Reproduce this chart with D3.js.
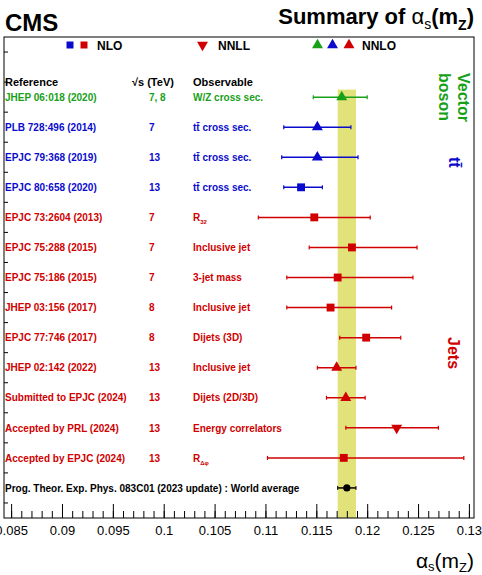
<!DOCTYPE html>
<html lang="en">
<head>
<meta charset="UTF-8">
<title>Summary of alpha_s(mZ)</title>
<script src="https://d3js.org/d3.v7.min.js"></script>
<style>
  body { margin: 0; background: #fff; }
  svg text { font-family: "Liberation Sans", Arial, sans-serif; }
  .bold { font-weight: bold; }
</style>
</head>
<body>
<svg id="chart" width="482" height="575"></svg>
<script>
// ---- data ----
const references = [
  "JHEP 06:018 (2020)", "PLB 728:496 (2014)", "EPJC 79:368 (2019)", "EPJC 80:658 (2020)",
  "EPJC 73:2604 (2013)", "EPJC 75:288 (2015)", "EPJC 75:186 (2015)", "JHEP 03:156 (2017)",
  "EPJC 77:746 (2017)", "JHEP 02:142 (2022)", "Submitted to EPJC (2024)", "Accepted by PRL (2024)",
  "Accepted by EPJC (2024)"
];
const sqrtS = ["7, 8", "7", "13", "13", "7", "7", "7", "8", "8", "13", "13", "13", "13"];
const observables = [
  "W/Z cross sec.", "tt\u0304 cross sec.", "tt\u0304 cross sec.", "tt\u0304 cross sec.",
  "R_32", "Inclusive jet", "3-jet mass", "Inclusive jet", "Dijets (3D)", "Inclusive jet",
  "Dijets (2D/3D)", "Energy correlators", "R_\u0394\u03c6"
];
const groups = ["V", "tt", "tt", "tt", "jets", "jets", "jets", "jets", "jets", "jets", "jets", "jets", "jets"];
const orders = ["NNLO", "NNLO", "NNLO", "NLO", "NLO", "NLO", "NLO", "NLO", "NLO", "NNLO", "NNLO", "NNLL", "NLO"];
const central = [0.1175, 0.1151, 0.1151, 0.1135, 0.1148, 0.1185, 0.1171, 0.1164, 0.1199, 0.1170, 0.1179, 0.1229, 0.1177];
const errLow  = [0.0028, 0.0033, 0.0035, 0.0017, 0.0055, 0.0042, 0.0050, 0.0043, 0.0026, 0.0019, 0.0019, 0.0050, 0.0075];
const errHigh = [0.0025, 0.0033, 0.0040, 0.0021, 0.0055, 0.0064, 0.0074, 0.0060, 0.0034, 0.0019, 0.0019, 0.0041, 0.0118];

const worldLabel = "Prog. Theor. Exp. Phys. 083C01 (2023 update) : World average";
const worldAvg = 0.1180, worldErr = 0.0009;

const majorTicks = [0.085, 0.09, 0.095, 0.1, 0.105, 0.11, 0.115, 0.12, 0.125, 0.13];

// ---- setup ----
const colorOf = {V: "#18a018", tt: "#0a0acc", jets: "#d00000"};
const svg = d3.select("#chart");
const frameL = 4, frameR = 474, frameT = 37, frameB = 518;

const x = d3.scaleLinear().domain([0.0843, 0.1305]).range([frameL, frameR]);
const y = d3.scaleLinear().domain([0, 16]).range([frameT, frameB]);

const rows = references.map((r, i) => ({
  ref: r, s: sqrtS[i], obs: observables[i], group: groups[i], order: orders[i],
  c: central[i], lo: central[i] - errLow[i], hi: central[i] + errHigh[i], pos: i + 2
}));

// world average band
svg.append("rect")
  .attr("x", x(worldAvg - worldErr)).attr("width", x(worldAvg + worldErr) - x(worldAvg - worldErr))
  .attr("y", y(1.75)).attr("height", y(16) - y(1.75))
  .attr("fill", "#e2e27a");

// frame
svg.append("rect").attr("x", frameL).attr("y", frameT)
  .attr("width", frameR - frameL).attr("height", frameB - frameT)
  .attr("fill", "none").attr("stroke", "#000").attr("stroke-width", 1);

// left ticks
svg.append("g").selectAll("line").data(d3.range(0, 16)).join("line")
  .attr("x1", frameL).attr("x2", frameL + 4)
  .attr("y1", d => y(d + 0.5)).attr("y2", d => y(d + 0.5))
  .attr("stroke", "#000");

// x axis: minor + major ticks pointing up
const minor = d3.range(85, 131).map(v => v / 1000);
svg.append("g").attr("transform", `translate(0,${frameB})`)
  .call(d3.axisBottom(x).tickValues(minor).tickSize(-7).tickFormat(""))
  .call(g => g.select(".domain").remove());
svg.append("g").attr("transform", `translate(0,${frameB})`)
  .call(d3.axisBottom(x).tickValues(majorTicks).tickSize(-14).tickFormat(d => String(+d.toFixed(3))))
  .call(g => g.select(".domain").remove())
  .call(g => g.selectAll("text").attr("font-size", 13).attr("fill", "#000")
    .attr("font-family", "Liberation Sans, Arial, sans-serif").attr("dy", "0").attr("y", 17));

// error bars
const bars = svg.append("g");
rows.forEach(d => {
  const col = colorOf[d.group];
  bars.append("line").attr("x1", x(d.lo)).attr("x2", x(d.hi))
    .attr("y1", y(d.pos)).attr("y2", y(d.pos)).attr("stroke", col).attr("stroke-width", 1.5);
  [d.lo, d.hi].forEach(v => bars.append("line").attr("x1", x(v)).attr("x2", x(v))
    .attr("y1", y(d.pos) - 2).attr("y2", y(d.pos) + 2).attr("stroke", col).attr("stroke-width", 1.2));
});

// markers
const tri = d3.symbol().type(d3.symbolTriangle).size(52);
const sq = d3.symbol().type(d3.symbolSquare).size(62);
svg.append("g").selectAll("path").data(rows).join("path")
  .attr("d", d => d.order === "NLO" ? sq() : tri())
  .attr("transform", d => `translate(${x(d.c)},${y(d.pos)})` + (d.order === "NNLL" ? " rotate(180)" : ""))
  .attr("fill", d => colorOf[d.group]);

// world average point
const wy = y(15);
svg.append("line").attr("x1", x(worldAvg - worldErr)).attr("x2", x(worldAvg + worldErr))
  .attr("y1", wy).attr("y2", wy).attr("stroke", "#000").attr("stroke-width", 1.5);
[worldAvg - worldErr, worldAvg + worldErr].forEach(v => svg.append("line")
  .attr("x1", x(v)).attr("x2", x(v)).attr("y1", wy - 2).attr("y2", wy + 2).attr("stroke", "#000"));
svg.append("circle").attr("cx", x(worldAvg)).attr("cy", wy).attr("r", 3.6).attr("fill", "#000");

// text columns
function withSub(sel, str, size) {
  const parts = str.split("_");
  sel.text(parts[0]);
  if (parts.length > 1) sel.append("tspan").attr("font-size", size * 0.6).attr("dy", 3).text(parts[1]);
}
const txt = svg.append("g").attr("class", "bold").attr("font-size", 10);
rows.forEach(d => {
  const col = colorOf[d.group], by = y(d.pos) + 3.7;
  txt.append("text").attr("x", 5).attr("y", by).attr("fill", col).text(d.ref);
  txt.append("text").attr("x", 149).attr("y", by).attr("fill", col).text(d.s);
  withSub(txt.append("text").attr("x", 193).attr("y", by).attr("fill", col), d.obs, 10);
});
txt.append("text").attr("x", 5).attr("y", wy + 3.7).attr("fill", "#000").text(worldLabel);

// column headers
const hdr = svg.append("g").attr("class", "bold").attr("font-size", 11);
hdr.append("text").attr("x", 5).attr("y", 86).text("Reference");
hdr.append("text").attr("x", 132).attr("y", 86).text("\u221As (TeV)");
hdr.append("text").attr("x", 193).attr("y", 86).text("Observable");

// group labels, rotated
const side = svg.append("g").attr("class", "bold").attr("font-size", 16);
const vb = side.append("text").attr("transform", "translate(458,73) rotate(90)").attr("fill", colorOf.V);
vb.append("tspan").attr("x", 0).attr("y", 0).text("Vector");
vb.append("tspan").attr("x", 0).attr("y", 19).text("boson");
side.append("text").attr("transform", "translate(449,157) rotate(90)").attr("fill", colorOf.tt).text("tt\u0304");
side.append("text").attr("transform", "translate(448,337) rotate(90)").attr("fill", colorOf.jets).text("Jets");

// legend
const leg = svg.append("g");
const legY = 45;
leg.append("path").attr("d", d3.symbol().type(d3.symbolSquare).size(49)()).attr("transform", `translate(70,${legY})`).attr("fill", colorOf.tt);
leg.append("path").attr("d", d3.symbol().type(d3.symbolSquare).size(49)()).attr("transform", `translate(84,${legY})`).attr("fill", colorOf.jets);
leg.append("text").attr("class", "bold").attr("font-size", 12).attr("x", 97).attr("y", legY + 4.5).text("NLO");
leg.append("path").attr("d", tri()).attr("transform", `translate(202.5,${legY}) rotate(180)`).attr("fill", colorOf.jets);
leg.append("text").attr("class", "bold").attr("font-size", 12).attr("x", 218).attr("y", legY + 4.5).text("NNLL");
[["V", 317.5], ["tt", 332.5], ["jets", 349]].forEach(([g, cx]) =>
  leg.append("path").attr("d", tri()).attr("transform", `translate(${cx},${legY})`).attr("fill", colorOf[g]));
leg.append("text").attr("class", "bold").attr("font-size", 12).attr("x", 362).attr("y", legY + 4.5).text("NNLO");

// titles
svg.append("text").attr("class", "bold").attr("font-size", 24).attr("x", 5).attr("y", 31).text("CMS");
const title = svg.append("text").attr("font-size", 22).attr("x", 474).attr("y", 23.5).attr("text-anchor", "end");
title.append("tspan").attr("font-weight", "bold").text("Summary of  ");
title.append("tspan").text("\u03b1");
title.append("tspan").attr("font-size", 14).attr("dy", 5).text("s");
title.append("tspan").attr("font-weight", "bold").attr("dy", -5).text("(m");
title.append("tspan").attr("font-weight", "bold").attr("font-size", 14).attr("dy", 6).text("Z");
title.append("tspan").attr("font-weight", "bold").attr("dy", -6).text(")");

const xl = svg.append("text").attr("font-size", 21).attr("x", 474).attr("y", 568).attr("text-anchor", "end");
xl.append("tspan").text("\u03b1");
xl.append("tspan").attr("font-size", 13).attr("dy", 3).text("s");
xl.append("tspan").attr("dy", -3).text("(m");
xl.append("tspan").attr("font-size", 13).attr("dy", 4).text("Z");
xl.append("tspan").attr("dy", -4).text(")");
</script>
</body>
</html>
